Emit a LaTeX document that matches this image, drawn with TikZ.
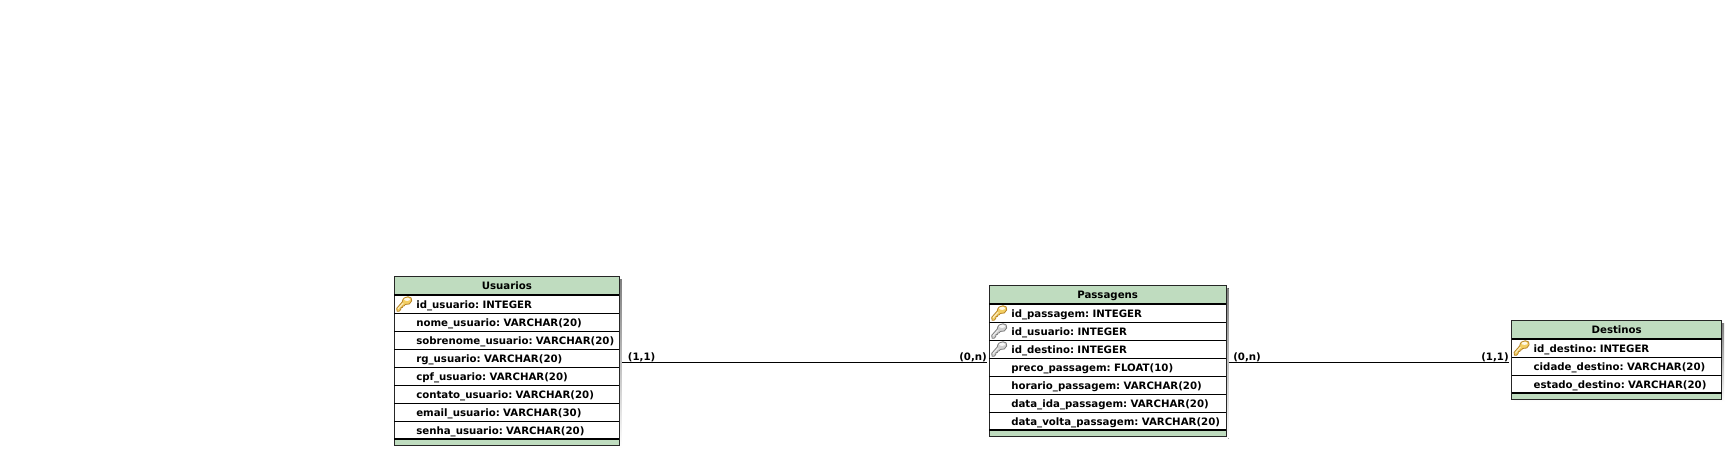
\documentclass[tikz,border=0pt]{standalone}
\usepackage{fontspec}
\setmainfont[WordSpace=0.6]{DejaVu Sans}
\usetikzlibrary{calc}
\definecolor{hdr}{HTML}{BFDCBF}
\definecolor{shade}{HTML}{9A9A9A}
\definecolor{goldA}{HTML}{F3CE62}
\definecolor{goldB}{HTML}{B8862A}
\definecolor{greyA}{HTML}{D0D0D0}
\definecolor{greyB}{HTML}{7F7F7F}
\newcommand{\tfont}{\bfseries\fontsize{7.65pt}{9pt}\selectfont}
\tikzset{
  px/.style={x=0.75pt,y=-0.75pt},
  tabletext/.style={font=\tfont,inner sep=0pt,anchor=base west,text=black},
  headtext/.style={font=\tfont,inner sep=0pt,anchor=base,text=black},
  cardtext/.style={font=\tfont,inner sep=0pt,anchor=base west,text=black},
  rel/.style={draw=black,line width=0.75pt},
  tablebox/.style={draw=black!85,line width=0.75pt,fill=white},
  rowline/.style={draw=black,line width=0.7pt},
  thickline/.style={draw=black,line width=1.5pt},
  keypk/.style={fill=goldA,draw=goldB},
  keyfk/.style={fill=greyA,draw=greyB},
}
% #1 name, #2 left, #3 right, #4 top, #5 number of rows, #6 title
\newcommand{\entity}[6]{%
  \pgfmathsetmacro{\hb}{#4+18.3}
  \pgfmathsetmacro{\fb}{\hb+18*#5}
  \pgfmathsetmacro{\bb}{\fb+6.4}
  \pgfmathsetmacro{\cx}{(#2+#3)/2}
  \fill[shade] (#2+2.5,#4+2.5) rectangle (#3+2.5,\bb+2.5);
  \path[tablebox] (#2,#4) rectangle (#3,\bb);
  \fill[hdr] (#2,#4) rectangle (#3,\hb);
  \fill[hdr] (#2,\fb) rectangle (#3,\bb);
  \draw[draw=black!85,line width=0.75pt] (#2,#4) rectangle (#3,\bb);
  \draw[thickline] (#2,\hb) -- (#3,\hb);
  \draw[thickline] (#2,\fb) -- (#3,\fb);
  \node[headtext] (#1) at (\cx,#4+12.4) {#6};
}
% #1 table left, #2 table right, #3 table top, #4 row index (0-based), #5 name, #6 text
\newcommand{\fieldrow}[6]{%
  \pgfmathsetmacro{\rt}{#3+18.3+18*#4}
  \ifnum#4>0 \draw[rowline] (#1,\rt) -- (#2,\rt);\fi
  \node[tabletext] (#5) at (#1+21.7,\rt+13.8) {#6};
}
% #1 left, #2 top of key box, #3 style
\newcommand{\keyicon}[3]{%
  \begin{scope}[shift={(#1,#2)}]
    \path[#3,line width=0.6pt,line join=round]
      (0.2,11.8) -- (5.8,5.4)
      .. controls (6,2) and (8.6,0.2) .. (11.4,0.2)
      .. controls (14.4,0.2) and (15.8,2) .. (15.2,4.4)
      .. controls (14.6,7) and (11.6,8.8) .. (8.8,8)
      -- (7.6,9.4) -- (6.4,9.4) -- (6,11) -- (4.6,11) -- (4.2,13) -- (2.6,14.8) -- (0.6,14.8) -- cycle;
    \fill[white,opacity=0.85] (10.6,2.9) ellipse (3 and 1.5);
    \draw[white,opacity=0.6,line width=0.8pt] (1.6,12.2) -- (6.6,6.6);
  \end{scope}
}
\begin{document}
\begin{tikzpicture}[px]
\useasboundingbox (0,0) rectangle (1729,453);
\fill[white] (0,0) rectangle (1729,453);

\entity{usuarios}{394.3}{619.3}{276.7}{8}{Usuarios}
\fieldrow{394.3}{619.3}{276.7}{0}{u1}{id\_usuario: INTEGER}
\fieldrow{394.3}{619.3}{276.7}{1}{u2}{nome\_usuario: VARCHAR(20)}
\fieldrow{394.3}{619.3}{276.7}{2}{u3}{sobrenome\_usuario: VARCHAR(20)}
\fieldrow{394.3}{619.3}{276.7}{3}{u4}{rg\_usuario: VARCHAR(20)}
\fieldrow{394.3}{619.3}{276.7}{4}{u5}{cpf\_usuario: VARCHAR(20)}
\fieldrow{394.3}{619.3}{276.7}{5}{u6}{contato\_usuario: VARCHAR(20)}
\fieldrow{394.3}{619.3}{276.7}{6}{u7}{email\_usuario: VARCHAR(30)}
\fieldrow{394.3}{619.3}{276.7}{7}{u8}{senha\_usuario: VARCHAR(20)}
\keyicon{396.5}{296.5}{keypk}

\entity{passagens}{989.3}{1226}{285.7}{7}{Passagens}
\fieldrow{989.3}{1226}{285.7}{0}{p1}{id\_passagem: INTEGER}
\fieldrow{989.3}{1226}{285.7}{1}{p2}{id\_usuario: INTEGER}
\fieldrow{989.3}{1226}{285.7}{2}{p3}{id\_destino: INTEGER}
\fieldrow{989.3}{1226}{285.7}{3}{p4}{preco\_passagem: FLOAT(10)}
\fieldrow{989.3}{1226}{285.7}{4}{p5}{horario\_passagem: VARCHAR(20)}
\fieldrow{989.3}{1226}{285.7}{5}{p6}{data\_ida\_passagem: VARCHAR(20)}
\fieldrow{989.3}{1226}{285.7}{6}{p7}{data\_volta\_passagem: VARCHAR(20)}
\keyicon{991.5}{305.5}{keypk}
\keyicon{991.5}{323.5}{keyfk}
\keyicon{991.5}{341.5}{keyfk}

\entity{destinos}{1511.7}{1721.7}{320.7}{3}{Destinos}
\fieldrow{1511.7}{1721.7}{320.7}{0}{d1}{id\_destino: INTEGER}
\fieldrow{1511.7}{1721.7}{320.7}{1}{d2}{cidade\_destino: VARCHAR(20)}
\fieldrow{1511.7}{1721.7}{320.7}{2}{d3}{estado\_destino: VARCHAR(20)}
\keyicon{1513.9}{340.5}{keypk}

\coordinate (ua) at (622,362.7);
\coordinate (pa) at (987,362.7);
\coordinate (pb) at (1228.5,362.7);
\coordinate (da) at (1509,362.7);
\draw[rel] (ua) -- (pa);
\draw[rel] (pb) -- (da);

\node[cardtext] (c1) at (627.7,360) {(1,1)};
\node[cardtext] (c2) at (959,360) {(0,n)};
\node[cardtext] (c3) at (1233,360) {(0,n)};
\node[cardtext] (c4) at (1481,360) {(1,1)};
\end{tikzpicture}
\end{document}
